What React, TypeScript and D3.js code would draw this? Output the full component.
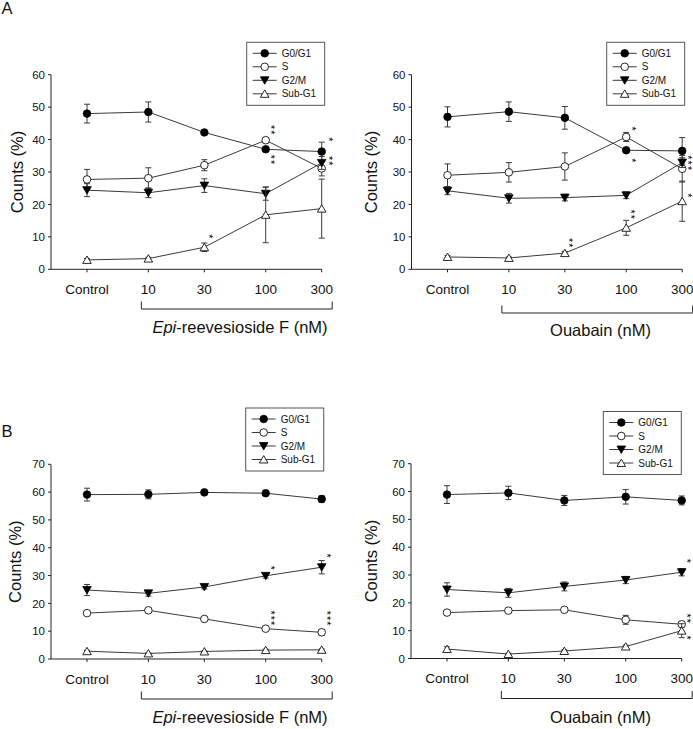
import React from "react";
import * as d3 from "d3";

// ---- shared categories ----
const CATEGORIES = ["Control", "10", "30", "100", "300"];
const DOSES = [3, 10, 30, 100, 300]; // control plotted at 3 nM on log axis
const SERIES_NAMES = ["G0/G1", "S", "G2/M", "Sub-G1"];
const Y_TICKS_A = [0, 10, 20, 30, 40, 50, 60];
const Y_TICKS_B = [0, 10, 20, 30, 40, 50, 60, 70];

// ---- Panel A, Epi-reevesioside F ----
const A_EPI_G0G1 = [48.0, 48.5, 42.2, 37.0, 36.3];
const A_EPI_S = [27.7, 28.1, 32.1, 39.8, 31.1];
const A_EPI_G2M = [24.4, 23.6, 25.8, 23.3, 32.8];
const A_EPI_SUB = [2.9, 3.3, 6.8, 16.8, 18.7];
const A_EPI_G0G1_ERR = [2.9, 3.1, 0.5, 0.6, 2.9];
const A_EPI_S_ERR = [3.1, 3.2, 1.7, 0.8, 2.3];
const A_EPI_G2M_ERR = [2.0, 1.5, 2.1, 2.0, 2.0];
const A_EPI_SUB_ERR = [0.4, 0.4, 1.3, 8.6, 9.1];

// ---- Panel A, Ouabain ----
const A_OUA_G0G1 = [47.0, 48.6, 46.7, 36.7, 36.5];
const A_OUA_S = [29.0, 29.9, 31.7, 40.8, 31.0];
const A_OUA_G2M = [24.2, 21.9, 22.1, 22.8, 32.9];
const A_OUA_SUB = [3.8, 3.5, 5.0, 12.8, 21.0];
const A_OUA_G0G1_ERR = [3.1, 3.0, 3.5, 0.6, 4.1];
const A_OUA_S_ERR = [3.5, 3.0, 4.2, 1.4, 4.1];
const A_OUA_G2M_ERR = [1.2, 1.5, 1.0, 1.0, 1.5];
const A_OUA_SUB_ERR = [0.4, 0.3, 0.5, 2.3, 6.2];

// ---- Panel B, Epi-reevesioside F ----
const B_EPI_G0G1 = [59.1, 59.2, 59.9, 59.6, 57.5];
const B_EPI_S = [16.5, 17.5, 14.4, 10.9, 9.6];
const B_EPI_G2M = [24.8, 23.6, 25.9, 29.9, 33.0];
const B_EPI_SUB = [2.8, 2.0, 2.7, 3.2, 3.3];
const B_EPI_G0G1_ERR = [2.3, 1.6, 0.6, 0.9, 1.2];
const B_EPI_S_ERR = [0.6, 0.6, 0.4, 0.6, 1.0];
const B_EPI_G2M_ERR = [2.0, 1.0, 0.7, 0.8, 2.4];
const B_EPI_SUB_ERR = [0.3, 0.2, 0.2, 0.3, 0.3];

// ---- Panel B, Ouabain ----
const B_OUA_G0G1 = [58.9, 59.5, 56.8, 58.1, 56.8];
const B_OUA_S = [16.5, 17.2, 17.5, 13.9, 12.3];
const B_OUA_G2M = [24.8, 23.6, 25.9, 28.2, 31.0];
const B_OUA_SUB = [3.4, 1.6, 2.7, 4.3, 10.0];
const B_OUA_G0G1_ERR = [3.2, 2.4, 1.8, 2.6, 1.6];
const B_OUA_S_ERR = [0.6, 0.6, 0.5, 1.6, 0.8];
const B_OUA_G2M_ERR = [2.4, 1.6, 1.6, 1.3, 1.3];
const B_OUA_SUB_ERR = [0.8, 0.3, 0.4, 0.5, 2.5];

// ---- significance marks: [category index, value (stack centre), label, dx] ----
const A_EPI_STARS: [number, number, string, number][] = [
  [3, 42.9, "**", 7], [3, 33.7, "**", 7], [4, 39.9, "*", 9], [4, 33.3, "**", 9], [2, 10.0, "*", 6.5],
];
const A_OUA_STARS: [number, number, string, number][] = [
  [3, 43.2, "*", 8], [3, 33.4, "*", 8], [4, 32.7, "***", 8], [4, 22.6, "*", 8], [3, 16.8, "**", 6.5], [2, 8.0, "**", 6],
];
const B_EPI_STARS: [number, number, string, number][] = [
  [3, 32.6, "*", 7.5], [4, 37.0, "*", 7], [3, 14.6, "***", 7], [4, 14.5, "***", 7],
];
const B_OUA_STARS: [number, number, string, number][] = [
  [4, 34.9, "*", 7.3], [4, 14.3, "**", 7], [4, 7.3, "*", 7],
];

const FONT = "'Liberation Sans', Arial, Helvetica, sans-serif";
const LINE = "#3a3a3a";
const STAR_FS = 10.5;

type Stars = [number, number, string, number][];

function Marker({ kind, x, y }: { kind: number; x: number; y: number }) {
  if (kind === 0) return <circle cx={x} cy={y} r={3.8} fill="#000" stroke="#000" strokeWidth={0.8} />;
  if (kind === 1) return <circle cx={x} cy={y} r={3.8} fill="#fff" stroke="#111" strokeWidth={0.9} />;
  if (kind === 2)
    return (
      <path
        d={`M${x - 4.3},${y - 3.5}L${x + 4.3},${y - 3.5}L${x},${y + 3.9}Z`}
        fill="#000"
        stroke="#000"
        strokeWidth={0.8}
      />
    );
  return (
    <path
      d={`M${x - 4.3},${y + 3.5}L${x + 4.3},${y + 3.5}L${x},${y - 3.9}Z`}
      fill="#fff"
      stroke="#111"
      strokeWidth={0.9}
    />
  );
}

type PanelProps = {
  axisX: number;
  y0: number;
  yTop: number;
  yMax: number;
  yTicks: number[];
  values: number[][];
  errs: number[][];
  stars: Stars;
  titleItalic: string;
  titleRest: string;
  titleX: number;
  titleY: number;
  yTitleX: number;
  bracketY: number;
  legendX: number;
  legendY: number;
};

function Panel(p: PanelProps) {
  const x = d3.scaleLog().domain([1.48, 300]).range([p.axisX, p.axisX + 270.7]);
  const y = d3.scaleLinear().domain([0, p.yMax]).range([p.y0, p.yTop]);
  const line = d3
    .line<number>()
    .x((_, i) => x(DOSES[i]))
    .y((v) => y(v));
  const x10 = x(10);
  const x300 = x(300);
  return (
    <g>
      {/* axes */}
      <line x1={p.axisX} x2={p.axisX} y1={y(0)} y2={y(p.yMax)} stroke="#222" strokeWidth={1} />
      <line x1={p.axisX} x2={x300} y1={y(0)} y2={y(0)} stroke="#222" strokeWidth={1} />
      {p.yTicks.map((t) => (
        <g key={"yt" + t}>
          <line x1={p.axisX - 3} x2={p.axisX} y1={y(t)} y2={y(t)} stroke="#222" />
          <text
            x={p.axisX - 6}
            y={y(t)}
            dy="0.36em"
            textAnchor="end"
            fontSize={11.5}
            fontFamily={FONT}
            fill="#111"
          >
            {t}
          </text>
        </g>
      ))}
      {CATEGORIES.map((c, i) => (
        <g key={"xt" + c}>
          <line x1={x(DOSES[i])} x2={x(DOSES[i])} y1={y(0)} y2={y(0) + 3} stroke="#222" />
          <text
            x={x(DOSES[i])}
            y={y(0) + 24.5}
            textAnchor="middle"
            fontSize={13.5}
            fontFamily={FONT}
            fill="#111"
          >
            {c}
          </text>
        </g>
      ))}
      {/* bracket */}
      <path
        d={`M${x10 - 7},${p.bracketY - 7.5}V${p.bracketY}H${x300 + 10.5}V${p.bracketY - 7.5}`}
        fill="none"
        stroke="#222"
        strokeWidth={1}
      />
      <text x={p.titleX} y={p.titleY} textAnchor="middle" fontSize={16.5} fontFamily={FONT} fill="#111">
        {p.titleItalic ? <tspan fontStyle="italic">{p.titleItalic}</tspan> : null}
        {p.titleRest}
      </text>
      <text
        transform={`translate(${p.yTitleX},${(y(0) + y(p.yMax)) / 2}) rotate(-90)`}
        textAnchor="middle"
        dy="0.35em"
        fontSize={16.5}
        fontFamily={FONT}
        fill="#111"
      >
        Counts (%)
      </text>
      {/* series */}
      {p.values.map((vals, s) => (
        <g key={"s" + s}>
          {vals.map((v, i) => {
            const cx = x(DOSES[i]);
            const e = p.errs[s][i];
            return (
              <g key={"e" + i} stroke={LINE} strokeWidth={1}>
                <line x1={cx} x2={cx} y1={y(v - e)} y2={y(v + e)} />
                <line x1={cx - 3} x2={cx + 3} y1={y(v - e)} y2={y(v - e)} />
                <line x1={cx - 3} x2={cx + 3} y1={y(v + e)} y2={y(v + e)} />
              </g>
            );
          })}
          <path d={line(vals) || ""} fill="none" stroke={LINE} strokeWidth={1} />
          {vals.map((v, i) => (
            <Marker key={"m" + i} kind={s} x={x(DOSES[i])} y={y(v)} />
          ))}
        </g>
      ))}
      {/* significance stars: stacked vertically, drawn as one rotated text */}
      {p.stars.map(([ci, v, label, dx], k) => {
        const cx = x(DOSES[ci]) + dx;
        const cy = y(v);
        return (
          <text
            key={"st" + k}
            transform={`translate(${cx - 0.57 * STAR_FS},${cy}) rotate(90)`}
            textAnchor="middle"
            fontSize={STAR_FS}
            fontFamily={FONT}
            letterSpacing={1.2}
            fill="#000"
          >
            {label}
          </text>
        );
      })}
      {/* legend */}
      <g>
        <rect
          x={p.legendX}
          y={p.legendY}
          width={78}
          height={63}
          fill="#fff"
          stroke="#555"
          strokeWidth={1}
        />
        {SERIES_NAMES.map((name, s) => {
          const ly = p.legendY + 11 + s * 13.5;
          return (
            <g key={"lg" + s}>
              <line
                x1={p.legendX + 6}
                x2={p.legendX + 30}
                y1={ly}
                y2={ly}
                stroke={LINE}
                strokeWidth={1}
              />
              <Marker kind={s} x={p.legendX + 18} y={ly} />
              <text
                x={p.legendX + 35}
                y={ly}
                dy="0.36em"
                fontSize={10}
                fontFamily={FONT}
                fill="#111"
              >
                {name}
              </text>
            </g>
          );
        })}
      </g>
    </g>
  );
}

export default function App() {
  return (
    <svg
      width={693}
      height={729}
      viewBox="0 0 693 729"
      style={{ position: "absolute", left: 0, top: 0, background: "#fff" }}
    >
      <rect x={0} y={0} width={693} height={729} fill="#fff" />
      <text x={1.5} y={13.5} fontSize={16.5} fontFamily={FONT} fill="#111">
        A
      </text>
      <text x={1.5} y={436.7} fontSize={16.5} fontFamily={FONT} fill="#111">
        B
      </text>
      <Panel
        axisX={51}
        y0={269.3}
        yTop={74.7}
        yMax={60}
        yTicks={Y_TICKS_A}
        values={[A_EPI_G0G1, A_EPI_S, A_EPI_G2M, A_EPI_SUB]}
        errs={[A_EPI_G0G1_ERR, A_EPI_S_ERR, A_EPI_G2M_ERR, A_EPI_SUB_ERR]}
        stars={A_EPI_STARS}
        titleItalic="Epi"
        titleRest="-reevesioside F (nM)"
        titleX={240}
        titleY={333}
        yTitleX={17}
        bracketY={309}
        legendX={246.7}
        legendY={42.3}
      />
      <Panel
        axisX={411.5}
        y0={269.3}
        yTop={74.7}
        yMax={60}
        yTicks={Y_TICKS_A}
        values={[A_OUA_G0G1, A_OUA_S, A_OUA_G2M, A_OUA_SUB]}
        errs={[A_OUA_G0G1_ERR, A_OUA_S_ERR, A_OUA_G2M_ERR, A_OUA_SUB_ERR]}
        stars={A_OUA_STARS}
        titleItalic=""
        titleRest="Ouabain (nM)"
        titleX={600.5}
        titleY={336}
        yTitleX={371.7}
        bracketY={313}
        legendX={606.7}
        legendY={42.3}
      />
      <Panel
        axisX={51}
        y0={659}
        yTop={464.3}
        yMax={70}
        yTicks={Y_TICKS_B}
        values={[B_EPI_G0G1, B_EPI_S, B_EPI_G2M, B_EPI_SUB]}
        errs={[B_EPI_G0G1_ERR, B_EPI_S_ERR, B_EPI_G2M_ERR, B_EPI_SUB_ERR]}
        stars={B_EPI_STARS}
        titleItalic="Epi"
        titleRest="-reevesioside F (nM)"
        titleX={240}
        titleY={723}
        yTitleX={15}
        bracketY={699}
        legendX={245.7}
        legendY={408}
      />
      <Panel
        axisX={411}
        y0={658.5}
        yTop={463.7}
        yMax={70}
        yTicks={Y_TICKS_B}
        values={[B_OUA_G0G1, B_OUA_S, B_OUA_G2M, B_OUA_SUB]}
        errs={[B_OUA_G0G1_ERR, B_OUA_S_ERR, B_OUA_G2M_ERR, B_OUA_SUB_ERR]}
        stars={B_OUA_STARS}
        titleItalic=""
        titleRest="Ouabain (nM)"
        titleX={600.5}
        titleY={723}
        yTitleX={371.7}
        bracketY={698.5}
        legendX={603.3}
        legendY={411.5}
      />
    </svg>
  );
}
